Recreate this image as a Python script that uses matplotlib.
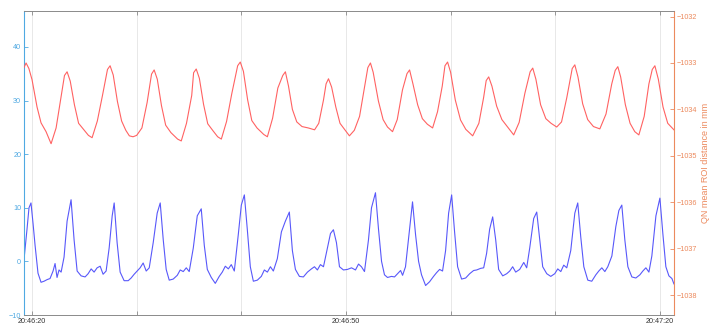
import pandas as pd
import matplotlib
matplotlib.use("Agg")
import matplotlib.pyplot as plt
import matplotlib.dates as mdates

plt.rcParams["font.family"] = ["Liberation Sans", "DejaVu Sans"]

# start of the recording shown
start = pd.Timestamp("2000-01-01 20:46:20")

# red trace (right axis), seconds after 20:46:20
red_t = [-0.77, -0.57, -0.30, 0.00, 0.48, 0.86, 1.34, 1.82, 2.30, 2.80,
         3.10, 3.35, 3.65, 4.05, 4.45, 4.95, 5.39, 5.74, 6.24, 6.74,
         7.21, 7.46, 7.76, 8.16, 8.56, 8.96, 9.30, 9.65, 10.00, 10.50, 11.00, 11.42,
         11.67, 11.97, 12.37, 12.77, 13.27, 13.91, 14.26, 14.76, 15.26, 15.44,
         15.69, 15.99, 16.39, 16.79, 17.29, 17.74, 18.09, 18.59, 19.09, 19.65,
         19.90, 20.20, 20.60, 21.00, 21.50, 22.14, 22.49, 22.99, 23.49, 23.96,
         24.21, 24.51, 24.88, 25.30, 25.80, 26.40, 27.00, 27.40, 27.85, 28.10,
         28.33, 28.63, 29.03, 29.43, 29.93, 30.33, 30.80, 31.30, 31.75, 32.09,
         32.34, 32.60, 33.10, 33.55, 33.97, 34.45, 34.90, 35.40, 35.83,
         36.08, 36.40, 36.85, 37.30, 37.78, 38.28, 38.75, 39.20, 39.46,
         39.71, 40.00, 40.45, 40.95, 41.45, 42.11, 42.70, 43.15, 43.40,
         43.64, 43.95, 44.40, 44.90, 45.45, 46.03, 46.55, 47.10, 47.60,
         47.85, 48.15, 48.60, 49.10, 49.60, 50.14, 50.60, 51.10, 51.62,
         51.87, 52.17, 52.62, 53.10, 53.65, 54.26, 54.85, 55.40, 55.73,
         55.98, 56.25, 56.70, 57.15, 57.60, 57.99, 58.50, 58.95, 59.27,
         59.52, 59.85, 60.30, 60.75, 61.34]
red_v = [-1033.10, -1033.00, -1033.12, -1033.36, -1033.95, -1034.29, -1034.48, -1034.74, -1034.40, -1033.70,
         -1033.27, -1033.19, -1033.39, -1033.90, -1034.30, -1034.44, -1034.56, -1034.61, -1034.25, -1033.69,
         -1033.14, -1033.06, -1033.26, -1033.83, -1034.25, -1034.45, -1034.57, -1034.59, -1034.56, -1034.40, -1033.85, -1033.24,
         -1033.15, -1033.35, -1033.92, -1034.34, -1034.50, -1034.64, -1034.68, -1034.30, -1033.70, -1033.21,
         -1033.13, -1033.33, -1033.89, -1034.31, -1034.46, -1034.59, -1034.64, -1034.26, -1033.66, -1033.06,
         -1032.98, -1033.18, -1033.79, -1034.24, -1034.40, -1034.54, -1034.59, -1034.19, -1033.54, -1033.27,
         -1033.19, -1033.50, -1034.00, -1034.27, -1034.37, -1034.40, -1034.44, -1034.30, -1033.80, -1033.45,
         -1033.34, -1033.52, -1033.95, -1034.30, -1034.45, -1034.57, -1034.45, -1034.15, -1033.55, -1033.10,
         -1033.00, -1033.20, -1033.82, -1034.22, -1034.38, -1034.48, -1034.22, -1033.58, -1033.23,
         -1033.15, -1033.45, -1033.90, -1034.20, -1034.32, -1034.40, -1034.05, -1033.50, -1033.06,
         -1032.98, -1033.20, -1033.80, -1034.23, -1034.43, -1034.57, -1034.30, -1033.75, -1033.38,
         -1033.30, -1033.50, -1033.93, -1034.22, -1034.38, -1034.55, -1034.28, -1033.65, -1033.19,
         -1033.11, -1033.35, -1033.90, -1034.20, -1034.30, -1034.38, -1034.27, -1033.75, -1033.12,
         -1033.04, -1033.30, -1033.88, -1034.22, -1034.37, -1034.42, -1034.10, -1033.45, -1033.16,
         -1033.08, -1033.30, -1033.90, -1034.30, -1034.48, -1034.55, -1034.15, -1033.45, -1033.14,
         -1033.06, -1033.35, -1033.95, -1034.30, -1034.44]

# blue trace (left axis), seconds after 20:46:20
blue_t = [-0.77, -0.48, -0.29, -0.10, 0.10, 0.29, 0.57, 0.86, 1.15, 1.44, 1.72, 2.01, 2.20, 2.39, 2.58, 2.78,
          3.06, 3.35, 3.73, 4.02, 4.31, 4.69, 5.07, 5.36, 5.65, 5.93, 6.22, 6.51, 6.79, 7.08,
          7.37, 7.66, 7.85, 8.13, 8.42, 8.80, 9.19, 9.47, 9.76, 10.05, 10.33, 10.62, 10.91, 11.20,
          11.58, 11.96, 12.25, 12.54, 12.82, 13.11, 13.49, 13.88, 14.16, 14.45, 14.74, 15.02,
          15.41, 15.79, 16.17, 16.46, 16.75, 17.13, 17.51, 17.89, 18.18, 18.47, 18.76, 19.04, 19.33,
          19.71, 20.00, 20.29, 20.57, 20.86, 21.15, 21.53, 21.91, 22.20, 22.49, 22.78, 23.06,
          23.44, 23.83, 24.21, 24.59, 24.88, 25.17, 25.55, 25.93, 26.32, 26.70, 26.99, 27.27, 27.56, 27.85,
          28.23, 28.52, 28.80, 29.09, 29.38, 29.76, 30.14, 30.53, 30.91, 31.20, 31.48, 31.77,
          32.15, 32.44, 32.82, 33.11, 33.40, 33.68, 33.97, 34.35, 34.64, 34.93, 35.22, 35.41, 35.69,
          36.08, 36.36, 36.65, 36.94, 37.22, 37.61, 37.99, 38.37, 38.66, 38.95, 39.23,
          39.52, 39.81, 40.10, 40.38, 40.67, 41.05, 41.44, 41.82, 42.20, 42.49, 42.87, 43.16,
          43.44, 43.73, 44.02, 44.31, 44.59, 44.98, 45.36, 45.65, 45.93, 46.22, 46.60, 46.99, 47.27,
          47.56, 47.94, 48.23, 48.52, 48.80, 49.19, 49.57, 49.95, 50.24, 50.53, 50.81, 51.10,
          51.48, 51.87, 52.15, 52.44, 52.73, 53.11, 53.49, 53.88, 54.16, 54.45, 54.74, 55.02,
          55.41, 55.79, 56.08, 56.36, 56.65, 56.94, 57.32, 57.70, 58.09, 58.37, 58.66, 58.95,
          59.23, 59.62, 60.00, 60.29, 60.57, 60.86, 61.15, 61.34]
blue_v = [0.3, 6.0, 10.0, 10.9, 7.0, 3.0, -2.2, -3.9, -3.7, -3.4, -3.2, -1.8, -0.4, -3.0, -1.6, -2.0,
          0.8, 7.5, 11.5, 4.0, -1.8, -2.7, -2.9, -2.3, -1.4, -2.0, -1.2, -0.9, -2.4, -1.8,
          2.5, 8.5, 10.9, 3.5, -2.0, -3.6, -3.6, -3.1, -2.4, -1.8, -1.2, -0.3, -1.8, -1.2,
          3.5, 9.0, 10.9, 4.0, -1.5, -3.5, -3.3, -2.6, -1.6, -1.9, -1.2, -1.9,
          2.5, 8.5, 9.8, 3.0, -1.5, -3.0, -4.1, -2.8, -2.0, -0.9, -1.4, -0.6, -1.8,
          5.0, 10.5, 12.4, 6.0, -1.0, -3.7, -3.5, -2.8, -1.6, -2.0, -1.0, -1.8,
          0.5, 5.5, 7.5, 9.2, 2.0, -1.5, -2.8, -2.9, -2.0, -1.4, -1.0, -1.6, -0.6, -1.0,
          2.5, 5.2, 5.9, 3.5, -1.0, -1.6, -1.5, -1.2, -1.6, -0.5, -1.0, -1.9,
          4.0, 10.0, 12.8, 6.0, 0.0, -2.5, -3.0, -2.8, -2.9, -2.3, -1.7, -2.6, -1.0,
          6.0, 11.1, 5.0, 0.0, -2.5, -4.5, -3.8, -2.8, -2.1, -1.5, -1.8,
          2.0, 9.0, 12.4, 5.5, -1.0, -3.3, -3.1, -2.3, -1.7, -1.6, -1.3, -1.2,
          1.5, 6.0, 8.3, 4.0, -1.5, -2.7, -2.3, -1.8, -1.0, -2.0, -1.5, -0.2, -1.2,
          2.5, 8.0, 9.2, 4.0, -1.0, -2.3, -2.8, -2.3, -1.4, -1.9, -0.7, -1.2,
          2.0, 9.0, 10.9, 4.5, -1.0, -3.5, -3.7, -2.5, -1.8, -1.2, -1.9, -1.0,
          1.0, 6.5, 9.5, 10.5, 4.0, -1.0, -2.9, -3.1, -2.5, -1.8, -1.2, -2.0,
          1.0, 8.5, 11.8, 5.0, -1.0, -2.7, -3.2, -4.2]

left_ticks = [-10, 0, 10, 20, 30, 40]
right_ticks = [-1038, -1037, -1036, -1035, -1034, -1033, -1032]

red_time = start + pd.to_timedelta(red_t, unit="s")
blue_time = start + pd.to_timedelta(blue_t, unit="s")

blue_axis = "#4FA9E2"
orange_axis = "#EC8A5E"
frame = "#8a8a8a"

fig = plt.figure(figsize=(7.2, 3.35), dpi=100)
ax = fig.add_axes([0.0333, 0.0597, 0.9027, 0.9075])
ax2 = ax.twinx()

ax.plot(blue_time, blue_v, color="#5858FA", lw=0.8)
ax2.plot(red_time, red_v, color="#FF6262", lw=0.8)

ax.set_xlim(start - pd.Timedelta(seconds=0.77), start + pd.Timedelta(seconds=61.34))
ax.set_ylim(-10, 46.7)
ax2.set_ylim(-1038.43, -1031.88)
ax.set_yticks(left_ticks)
ax2.set_yticks(right_ticks)

# time axis: labels every 30 s, ticks and grid every 10 s
ax.xaxis.set_major_locator(mdates.SecondLocator(bysecond=[20, 50]))
ax.xaxis.set_minor_locator(mdates.SecondLocator(bysecond=[0, 10, 30, 40]))
ax.xaxis.set_major_formatter(mdates.DateFormatter("%H:%M:%S"))
ax.grid(True, axis="x", which="both", color="#e4e4e4", lw=0.6)
ax.set_axisbelow(True)

ax.tick_params(axis="x", which="both", direction="in", top=True, length=3, width=0.6,
               color=frame, labelsize=5.2, labelcolor="#333333", pad=2)
ax.tick_params(axis="y", direction="in", length=3, width=0.6, color=blue_axis,
               labelsize=5.2, labelcolor=blue_axis, pad=2)
ax2.tick_params(axis="y", direction="in", length=3, width=0.6, color=orange_axis,
                labelsize=5.2, labelcolor=orange_axis, pad=2)

for a in (ax, ax2):
    a.spines["top"].set_color(frame)
    a.spines["bottom"].set_color(frame)
    a.spines["top"].set_linewidth(0.6)
    a.spines["bottom"].set_linewidth(0.6)
ax.spines["left"].set_color(blue_axis)
ax.spines["left"].set_linewidth(0.8)
ax.spines["right"].set_visible(False)
ax2.spines["left"].set_visible(False)
ax2.spines["right"].set_color(orange_axis)
ax2.spines["right"].set_linewidth(0.8)

ax2.set_ylabel("QN mean ROI distance in mm", color=orange_axis, fontsize=6.5, labelpad=3)

fig.savefig("out.png", dpi=100)
